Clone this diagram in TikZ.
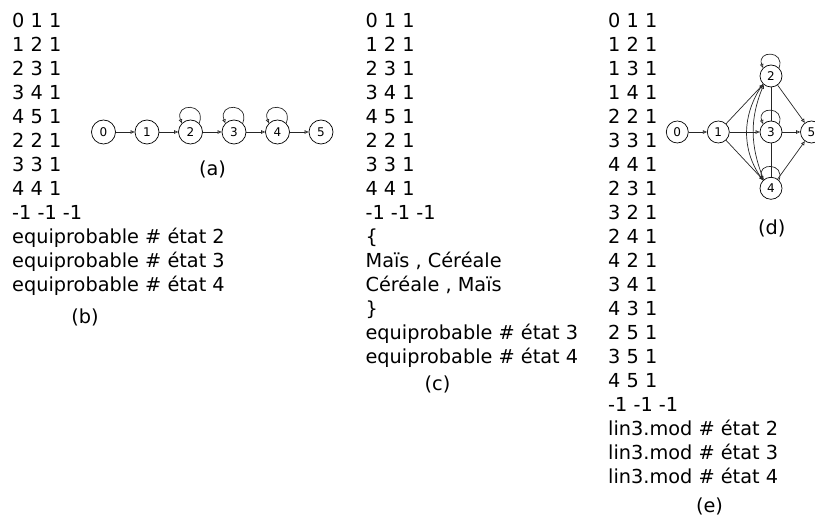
\documentclass[tikz,border=0pt]{standalone}
\usepackage{fontspec}
\setmainfont{DejaVu Sans}
\usetikzlibrary{arrows.meta}
\begin{document}
\begin{tikzpicture}[x=1pt,y=1pt,
  txt/.style={anchor=base west,inner sep=0pt,font=\fontsize{19.3}{24}\selectfont},
  lab/.style={anchor=base,inner sep=0pt,font=\fontsize{19.3}{24}\selectfont},
  st/.style={circle,draw,line width=0.7pt,minimum size=24pt,inner sep=0pt,font=\fontsize{12}{14}\selectfont},
  sd/.style={st,minimum size=22pt},
  ln/.style={line width=0.7pt,black!85},
  arr/.style={ln,-{Triangle[open,length=4pt,width=3.5pt]}}
]
\useasboundingbox (0,0) rectangle (815,-521);
\clip (0,0) rectangle (815,-521);

% ---- text column (b)
\foreach \t [count=\i] in {0 1 1,1 2 1,2 3 1,3 4 1,4 5 1,2 2 1,3 3 1,4 4 1,-1 -1 -1,equiprobable \# état 2,equiprobable \# état 3,equiprobable \# état 4}
  \node[txt] (b\i) at (12,{-28-24*(\i-1)}) {\t};
\node[lab] (labb) at (85,-324) {(b)};

% ---- text column (c)
\foreach \t [count=\i] in {0 1 1,1 2 1,2 3 1,3 4 1,4 5 1,2 2 1,3 3 1,4 4 1,-1 -1 -1,\{,{Maïs , Céréale},{Céréale , Maïs},\},equiprobable \# état 3,equiprobable \# état 4}
  \node[txt] (c\i) at (365.4,{-28-24*(\i-1)}) {\t};
\node[lab] (labc) at (437.5,-391) {(c)};

% ---- text column (e)
\foreach \t [count=\i] in {0 1 1,1 2 1,1 3 1,1 4 1,2 2 1,3 3 1,4 4 1,2 3 1,3 2 1,2 4 1,4 2 1,3 4 1,4 3 1,2 5 1,3 5 1,4 5 1,-1 -1 -1,lin3.mod \# état 2,lin3.mod \# état 3,lin3.mod \# état 4}
  \node[txt] (e\i) at (608,{-28-24*(\i-1)}) {\t};
\node[lab] (labe) at (709.5,-513) {(e)};

% ---- graph (a)
\foreach \k in {0,...,5}
  \node[st] (a\k) at ({103.5+43.5*\k},-132) {\k};
\node[lab] (laba) at (212.5,-176) {(a)};
\draw[arr] (a0) -- (a1);
\draw[arr] (a1) -- (a2);
\draw[arr] (a2) -- (a3);
\draw[arr] (a3) -- (a4);
\draw[arr] (a4) -- (a5);
\foreach \k in {2,3,4}
  \draw[arr] (a\k.45) .. controls +(70:22pt) and +(110:22pt) .. (a\k.135);

% ---- graph (d)
\node[sd] (d0) at (677.3,-132) {0};
\node[sd] (d1) at (718.3,-132) {1};
\node[sd] (d2) at (771,-76) {2};
\node[sd] (d3) at (771,-132) {3};
\node[sd] (d4) at (771,-188.3) {4};
\node[sd] (d5) at (811.5,-132) {5};
\node[lab] (labd) at (771.7,-235) {(d)};
\draw[arr] (d0) -- (d1);
\draw[arr] (d1) -- (d2);
\draw[arr] (d1) -- (d3);
\draw[arr] (d1) -- (d4);
\draw[ln] (d2) -- (d3);
\draw[ln] (d3) -- (d4);
\draw[arr] (d2) -- (d5);
\draw[arr] (d3) -- (d5);
\draw[arr] (d4) -- (d5);
\draw[arr] (d2.-135) to[out=-125,in=125] (d4.135);
\draw[arr] (d4.130) to[out=112,in=-112] (d2.-130);
\foreach \k in {2,3,4}
  \draw[arr] (d\k.45) .. controls +(70:19pt) and +(110:19pt) .. (d\k.135);
\end{tikzpicture}
\end{document}
